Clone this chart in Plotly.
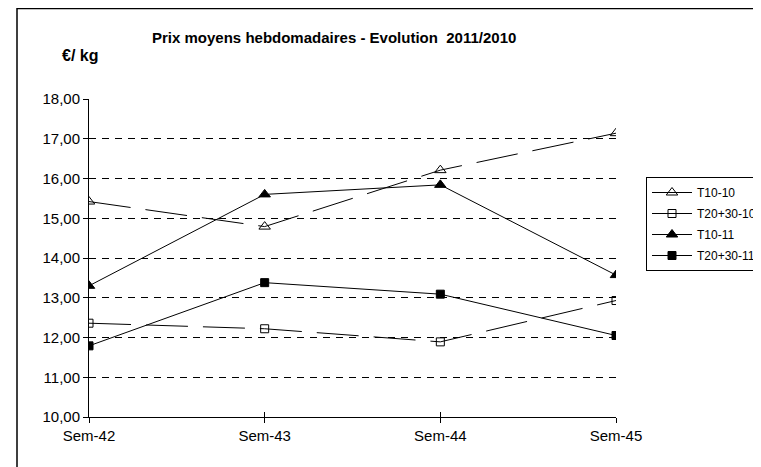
import plotly.graph_objects as go

weeks = ["Sem-42", "Sem-43", "Sem-44", "Sem-45"]
t10_10 = [15.42, 14.79, 16.21, 17.14]
t2030_10 = [12.36, 12.22, 11.89, 12.93]
t10_11 = [13.30, 15.60, 15.84, 13.57]
t2030_11 = [11.79, 13.38, 13.09, 12.05]
y_ticks = [10, 11, 12, 13, 14, 15, 16, 17, 18]

FONT = "Liberation Sans, Arial, sans-serif"

series = [
    ("T10-10", t10_10, "triangle-up-open", 10, "42px,15px"),
    ("T20+30-10", t2030_10, "square-open", 8, "42px,15px"),
    ("T10-11", t10_11, "triangle-up", 10, "solid"),
    ("T20+30-11", t2030_11, "square", 8, "solid"),
]

fig = go.Figure()
for name, vals, sym, sz, dash in series:
    fig.add_trace(go.Scatter(
        x=weeks, y=vals, name=name, legendgroup=name, mode="lines+markers",
        line=dict(color="black", width=1, dash=dash),
        marker=dict(symbol=sym, size=sz, color="black",
                    line=dict(color="black", width=1)),
    ))

# invisible trace on an overlaid x axis, used only to draw the inner half of the
# crossing tick marks of the category axis
fig.add_trace(go.Scatter(
    x=weeks, y=[None] * len(weeks), xaxis="x2", yaxis="y",
    mode="lines", showlegend=False, hoverinfo="skip",
))

OFF = 8  # page body margin offset
W, H = 761 - OFF, 467 - OFF
L, T = 89 - OFF, 99 - OFF
pw, ph = 527, 318
R, B = W - L - pw, H - T - ph

def px(x):
    return (x - OFF - L) / pw

def py(y):
    return (H - B - (y - OFF)) / ph

fig.update_layout(
    width=W, height=H,
    margin=dict(l=L, r=R, t=T, b=B, autoexpand=False),
    paper_bgcolor="white", plot_bgcolor="white",
    separators=", ",
    font=dict(family=FONT, size=15, color="black"),
    showlegend=True,
    legend=dict(
        x=px(646), y=py(177), xanchor="left", yanchor="top",
        bgcolor="white", bordercolor="black", borderwidth=1,
        font=dict(size=12, family=FONT, color="black"),
        itemwidth=40, tracegroupgap=2,
    ),
    xaxis=dict(
        type="category", range=[0, 3],
        showline=True, linecolor="black", linewidth=1,
        ticks="outside", ticklen=5, tickcolor="black",
        showgrid=False, zeroline=False,
        tickfont=dict(size=15, family=FONT, color="black"),
    ),
    xaxis2=dict(
        type="category", categoryorder="array", categoryarray=weeks,
        range=[0, 3], overlaying="x", anchor="y", side="bottom",
        showticklabels=False,
        ticks="inside", ticklen=5, tickcolor="black",
        showline=False, showgrid=False, zeroline=False,
    ),
    yaxis=dict(
        range=[10, 18], tickvals=y_ticks, tickformat=".2f",
        showline=True, linecolor="black", linewidth=1,
        ticks="outside", ticklen=5, tickcolor="black",
        showgrid=True, gridcolor="black", gridwidth=1, griddash="7px,6px",
        zeroline=False,
        tickfont=dict(size=15, family=FONT, color="black"),
    ),
    shapes=[
        dict(type="rect", xref="paper", yref="paper",
             x0=px(17), x1=px(800), y0=py(1.5), y1=py(-20),
             line=dict(color="black", width=1.5), fillcolor="rgba(0,0,0,0)"),
        dict(type="rect", xref="paper", yref="paper",
             x0=px(17), x1=px(800), y0=py(520), y1=py(8.5),
             line=dict(color="black", width=1.5), fillcolor="rgba(0,0,0,0)"),
    ],
    annotations=[
        dict(text="<b>Prix moyens hebdomadaires - Evolution  2011/2010</b>",
             xref="paper", yref="paper", x=px(150), y=py(38),
             xanchor="left", yanchor="middle", showarrow=False,
             font=dict(size=15, family=FONT, color="black")),
        dict(text="<b>€/ kg</b>",
             xref="paper", yref="paper", x=px(60), y=py(56),
             xanchor="left", yanchor="middle", showarrow=False,
             font=dict(size=16, family=FONT, color="black")),
    ],
)

fig.write_html("out.html")
